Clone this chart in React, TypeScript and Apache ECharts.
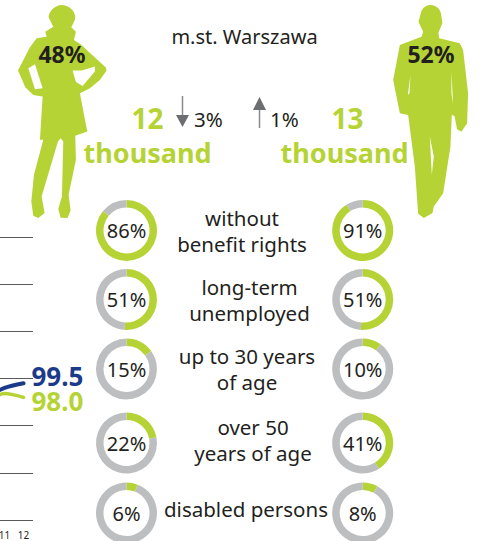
import React, { useEffect, useRef } from "react";
import * as echarts from "echarts";

const GREEN = "#b5d334";
const BLUE = "#1c3a8a";
const GREY = "#bcbec0";
const INK = "#231f20";
const FONT = "'Noto Sans', sans-serif";

const months = ["10", "11", "12"];
const blueValues = [98.0, 99.0, 99.5];
const greenValues = [97.2, 98.4, 98.0];

const femaleShares = [86, 51, 15, 22, 6];
const maleShares = [91, 51, 10, 41, 8];
const ringRows = [230.5, 299.5, 369, 443, 513];

const womanPath =
  "M185 15 C205 15 225 32 226 50 C226 62 218 72 214 82 L228 95 L222 120 L245 135 L262 152 L318 203 L320 212 L300 240 L270 265 L240 280 L262 395 L226 408 L228 480 L206 585 L212 632 L203 655 L182 654 L175 628 L186 590 L190 425 L182 415 L174 425 L125 590 L134 640 L115 655 L100 648 L94 605 L102 525 L130 420 L120 420 L128 290 L100 285 L76 262 L54 212 L90 142 L110 115 L140 110 L136 95 L160 80 L146 52 C146 35 165 15 185 15 Z " +
  "M85 205 L105 268 L128 265 L105 193 Z M218 212 L228 246 L248 258 L285 215 L285 200 L245 212 Z";

const manPath =
  "M572 15 C592 15 604 30 605 50 L608 68 L596 98 L598 115 L660 130 L670 150 L685 280 L682 370 L665 396 L652 388 L644 348 L636 345 L632 440 L610 580 L582 620 L578 640 L552 655 L535 642 L525 500 L505 345 L480 340 L460 240 L480 135 L545 110 L550 95 L536 65 L545 32 C552 20 562 15 572 15 Z " +
  "M512 225 L504 285 L509 280 Z M635 215 L635 280 L640 312 Z M570 410 L576 525 L582 470 Z";

echarts.graphic.registerShape("woman", echarts.graphic.extendPath(womanPath, {}));
echarts.graphic.registerShape("man", echarts.graphic.extendPath(manPath, {}));

const text = (
  x: number,
  y: number,
  value: string,
  fontSize: number,
  fill = INK,
  fontWeight: string | number = 400,
  align = "center"
) => ({
  type: "text",
  x,
  y,
  silent: true,
  style: { text: value, fontSize, fontFamily: FONT, fontWeight, fill, align, verticalAlign: "middle" },
});

const ring = (cx: number, cy: number, share: number) => ({
  type: "pie",
  silent: true,
  center: [cx, cy],
  radius: [23, 30.5],
  startAngle: 90,
  clockwise: true,
  labelLine: { show: false },
  data: [
    {
      value: share,
      itemStyle: { color: GREEN },
      label: {
        show: true,
        position: "center",
        formatter: "{c}%",
        fontSize: 20,
        fontFamily: FONT,
        color: INK,
      },
    },
    { value: 100 - share, itemStyle: { color: GREY }, label: { show: false } },
  ],
});

const option = {
  animation: false,
  backgroundColor: "#ffffff",
  grid: { left: -24, width: 57, top: 237, height: 283, outerBoundsMode: "none" },
  xAxis: {
    type: "category",
    data: months,
    axisLine: { show: false },
    axisTick: { show: false },
    axisLabel: {
      fontSize: 10,
      fontFamily: FONT,
      color: INK,
      margin: 10,
      interval: 0,
      hideOverlap: false,
      formatter: (v: string) => (v === "10" ? "" : v),
    },
  },
  yAxis: {
    type: "value",
    min: 85,
    max: 115,
    interval: 5,
    axisLine: { show: false },
    axisTick: { show: false },
    axisLabel: { show: false },
    splitLine: { lineStyle: { color: "#58595b", width: 1 } },
  },
  series: [
    {
      type: "line",
      data: greenValues,
      silent: true,
      symbol: "none",
      smooth: 0.3,
      clip: false,
      lineStyle: { color: GREEN, width: 3.5, cap: "round" },
      endLabel: {
        show: true,
        formatter: (p: any) => Number(p.value).toFixed(1),
        color: GREEN,
        fontSize: 26,
        lineHeight: 24,
        fontWeight: 700,
        fontFamily: FONT,
        distance: 5,
        offset: [3, 4],
      },
    },
    {
      type: "line",
      data: blueValues,
      silent: true,
      symbol: "none",
      smooth: 0.3,
      clip: false,
      lineStyle: { color: BLUE, width: 4, cap: "round" },
      endLabel: {
        show: true,
        formatter: (p: any) => Number(p.value).toFixed(1),
        color: BLUE,
        fontSize: 26,
        lineHeight: 24,
        fontWeight: 700,
        fontFamily: FONT,
        distance: 5,
        offset: [3, -7],
      },
    },
    ...ringRows.map((y, i) => ring(126.5, y, femaleShares[i])),
    ...ringRows.map((y, i) => ring(362.7, y, maleShares[i])),
  ],
  graphic: [
    { type: "woman", x: 0, y: 0, scaleX: 1 / 3, scaleY: 1 / 3, style: { fill: GREEN } },
    { type: "man", x: 240, y: 0, scaleX: 1 / 3, scaleY: 1 / 3, style: { fill: GREEN } },
    text(62, 54, "48%", 23, INK, 700),
    text(431, 54, "52%", 23, INK, 700),
    text(244.5, 36, "m.st. Warszawa", 20),
    text(147.5, 118, "12", 28, GREEN, 700),
    text(347.5, 118, "13", 28, GREEN, 700),
    text(147.5, 152, "thousand", 27, GREEN, 700),
    text(344.5, 152, "thousand", 27, GREEN, 700),
    { type: "line", silent: true, shape: { x1: 182.5, y1: 96, x2: 182.5, y2: 116 }, style: { stroke: "#8a8b8e", lineWidth: 1.5 } },
    { type: "polygon", silent: true, shape: { points: [[176, 115], [189, 115], [182.5, 127]] }, style: { fill: "#6d6e71" } },
    { type: "line", silent: true, shape: { x1: 259.5, y1: 109, x2: 259.5, y2: 128 }, style: { stroke: "#8a8b8e", lineWidth: 1.5 } },
    { type: "polygon", silent: true, shape: { points: [[253, 110], [266, 110], [259.5, 97]] }, style: { fill: "#6d6e71" } },
    text(194, 119, "3%", 20.5, INK, 400, "left"),
    text(270, 119, "1%", 20.5, INK, 400, "left"),
    text(242, 218, "without", 20.5),
    text(242, 244, "benefit rights", 20.5),
    text(249.5, 287, "long-term", 20.5),
    text(249.5, 313, "unemployed", 20.5),
    text(247, 356, "up to 30 years", 20.5),
    text(247, 382, "of age", 20.5),
    text(253, 427, "over 50", 20.5),
    text(253, 453, "years of age", 20.5),
    text(246, 509, "disabled persons", 20.5),
  ],
};

export default function App() {
  const ref = useRef<HTMLDivElement>(null);
  useEffect(() => {
    document.body.style.margin = "0";
    const chart = echarts.init(ref.current!, undefined, { renderer: "svg" });
    chart.setOption(option as any);
    return () => chart.dispose();
  }, []);
  return <div ref={ref} style={{ width: 479, height: 541 }} />;
}
